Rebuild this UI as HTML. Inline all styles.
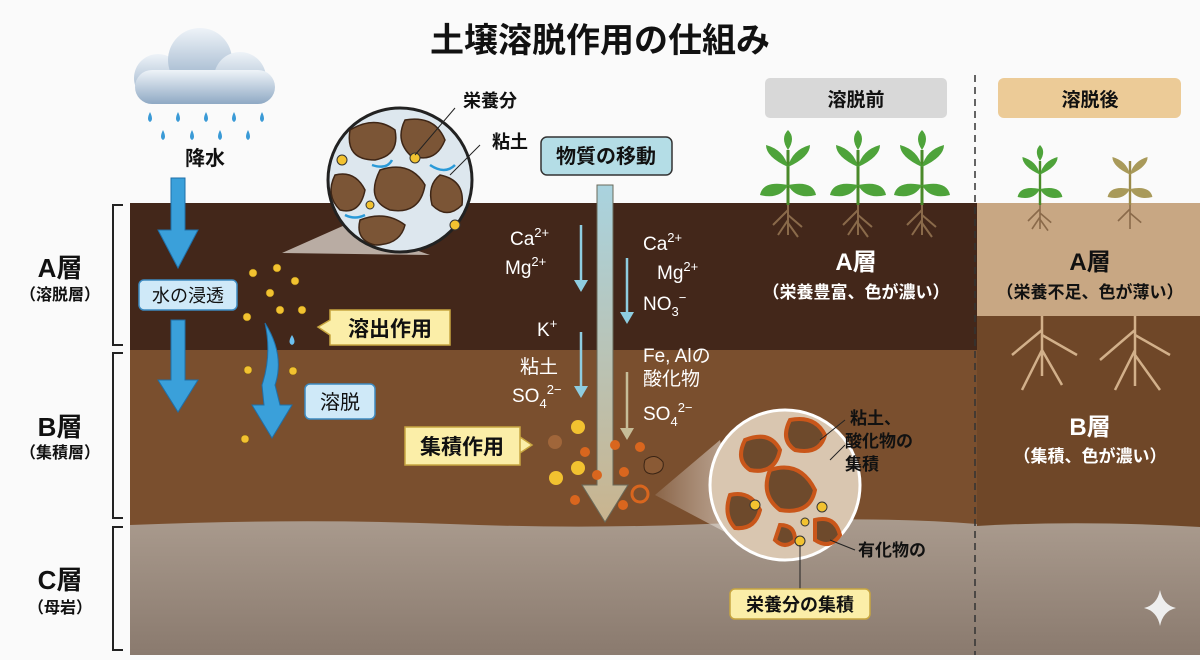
<!DOCTYPE html>
<html><head><meta charset="utf-8"><style>
body{margin:0;width:1200px;height:655px;overflow:hidden;background:#fafafa}
text{font-family:"Liberation Sans","Noto Sans CJK JP",sans-serif}
</style></head><body>
<svg width="1200" height="655" viewBox="0 0 1200 655" xmlns="http://www.w3.org/2000/svg">
<defs>
<linearGradient id="cg" x1="0" y1="0" x2="0" y2="1"><stop offset="0" stop-color="#a99a8d"/><stop offset="1" stop-color="#8a7a6e"/></linearGradient>
<linearGradient id="mv" x1="0" y1="0" x2="0" y2="1"><stop offset="0" stop-color="#a9d3df"/><stop offset="1" stop-color="#c9b48e"/></linearGradient>
<linearGradient id="cl" x1="0" y1="0" x2="0" y2="1"><stop offset="0" stop-color="#eef3f8"/><stop offset="1" stop-color="#8fa9c4"/></linearGradient>
<linearGradient id="beam" x1="0" y1="0" x2="1" y2="0"><stop offset="0" stop-color="#fff" stop-opacity="0.15"/><stop offset="1" stop-color="#e6ddd3" stop-opacity="0.8"/></linearGradient>
<g id="pl">
<path d="M0 0 V-55" stroke="#4a8a2a" stroke-width="3"/>
<path d="M0 -20 q-25 -5 -28 10 q20 5 28 -10z M0 -20 q25 -5 28 10 q-20 5 -28 -10z M0 -38 q-22 -10 -22 -22 q18 5 22 22z M0 -38 q22 -10 22 -22 q-18 5 -22 22z M0 -55 q-8 -12 0 -20 q8 8 0 20z" fill="#4ea33a"/>
<path d="M0 0 v30 M0 5 l-15 15 M0 10 l14 12 M0 15 l-10 15 M0 18 l10 14" stroke="#8a6a4a" stroke-width="2" fill="none"/></g>
</defs>
<rect width="1200" height="655" fill="#fafafa"/>
<text x="600" y="52" text-anchor="middle" font-size="34" font-weight="bold" fill="#111">土壌溶脱作用の仕組み</text>
<!-- soil left -->
<rect x="130" y="203" width="847" height="147" fill="#43271a"/>
<rect x="130" y="350" width="847" height="185" fill="#7a4f2e"/>
<path d="M130 525 Q300 518 450 524 Q600 530 750 522 Q880 516 977 524 L977 655 L130 655Z" fill="url(#cg)"/>
<!-- soil right -->
<rect x="977" y="203" width="223" height="113" fill="#c8a783"/>
<rect x="977" y="316" width="223" height="219" fill="#6f4728"/>
<path d="M977 526 Q1080 520 1200 527 L1200 655 L977 655Z" fill="url(#cg)"/>
<line x1="975" y1="75" x2="975" y2="655" stroke="#333" stroke-width="1.5" stroke-dasharray="7,5"/>
<!-- brackets -->
<g stroke="#222" stroke-width="2" fill="none">
<path d="M123 205 H113 V345 H123"/><path d="M123 353 H113 V518 H123"/><path d="M123 527 H113 V650 H123"/></g>
<g text-anchor="middle" fill="#111" font-weight="bold">
<text x="60" y="277" font-size="26">A層</text><text x="60" y="300" font-size="16">（溶脱層）</text>
<text x="60" y="436" font-size="26">B層</text><text x="60" y="458" font-size="16">（集積層）</text>
<text x="60" y="589" font-size="26">C層</text><text x="60" y="613" font-size="16">（母岩）</text></g>
<!-- cloud -->
<g><circle cx="158" cy="78" r="24" fill="url(#cl)"/><circle cx="200" cy="60" r="32" fill="url(#cl)"/><circle cx="240" cy="78" r="26" fill="url(#cl)"/><rect x="135" y="70" width="140" height="34" rx="17" fill="url(#cl)"/></g>
<g fill="#3a9ad6"><path d="M150 112 q-4 8 0 10 q4 -2 0 -10z"/><path d="M178 112 q-4 8 0 10 q4 -2 0 -10z"/><path d="M206 112 q-4 8 0 10 q4 -2 0 -10z"/><path d="M234 112 q-4 8 0 10 q4 -2 0 -10z"/><path d="M262 112 q-4 8 0 10 q4 -2 0 -10z"/>
<path d="M163 130 q-4 8 0 10 q4 -2 0 -10z"/><path d="M192 130 q-4 8 0 10 q4 -2 0 -10z"/><path d="M220 130 q-4 8 0 10 q4 -2 0 -10z"/><path d="M248 130 q-4 8 0 10 q4 -2 0 -10z"/></g>
<text x="205" y="165" text-anchor="middle" font-size="20" font-weight="bold" fill="#111">降水</text>
<!-- blue arrows -->
<g fill="#3aa0da" stroke="#1f6fa8" stroke-width="1">
<path d="M171 178 H185 V230 H198 L178 268 L158 230 H171Z"/>
<path d="M171 320 H185 V380 H198 L178 412 L158 380 H171Z"/>
<path d="M265 323 Q285 355 275 385 L280 405 H292 L272 438 L252 405 H264 L262 385 Q272 355 265 323Z"/></g>
<path d="M292 335 q-5 8 0 10 q5 -2 0 -10z" fill="#6cc0ef"/>
<rect x="139" y="280" width="98" height="30" rx="5" fill="#cfe9f8" stroke="#3d8ac0" stroke-width="1.5"/>
<text x="188" y="302" text-anchor="middle" font-size="18" fill="#111">水の浸透</text>
<rect x="305" y="384" width="70" height="35" rx="5" fill="#cfe9f8" stroke="#3d8ac0" stroke-width="1.5"/>
<text x="340" y="409" text-anchor="middle" font-size="20" fill="#111">溶脱</text>
<g fill="#f2c230" stroke="#7a5a10" stroke-width="0.5"><circle cx="253" cy="273" r="4"/><circle cx="277" cy="268" r="4"/><circle cx="295" cy="281" r="4"/><circle cx="270" cy="293" r="4"/><circle cx="280" cy="310" r="4"/><circle cx="302" cy="310" r="4"/><circle cx="247" cy="317" r="4"/><circle cx="248" cy="370" r="4"/><circle cx="293" cy="371" r="4"/><circle cx="245" cy="439" r="4"/></g>
<!-- 溶出作用 -->
<path d="M330 310 h120 v35 h-120 v-10 l-12 -8 l12 -7z" fill="#fbeea8" stroke="#c8a640" stroke-width="1.5"/>
<text x="390" y="336" text-anchor="middle" font-size="21" font-weight="bold" fill="#111">溶出作用</text>
<!-- top magnifier -->
<path d="M282 253 L345 225 L430 255 Z" fill="#e0d9d2" opacity="0.75"/>
<circle cx="400" cy="180" r="72" fill="#dde7ee" stroke="#222" stroke-width="3"/>
<g fill="#7b5536" stroke="#3e2616" stroke-width="1.5">
<path d="M350 130 q25 -15 45 0 q5 25 -20 30 q-30 0 -25 -30z"/><path d="M405 120 q30 -5 40 20 q-10 25 -35 15 q-15 -15 -5 -35z"/>
<path d="M380 170 q30 -10 45 15 q-5 30 -35 25 q-25 -10 -10 -40z"/><path d="M335 175 q20 -5 30 15 q-5 25 -25 20 q-15 -15 -5 -35z"/>
<path d="M440 175 q25 5 22 30 q-15 15 -30 0 q-5 -20 8 -30z"/><path d="M360 220 q25 -10 45 5 q-5 20 -30 20 q-20 -5 -15 -25z"/></g>
<g fill="none" stroke="#2a9ad8" stroke-width="2.5"><path d="M372 165 q15 5 20 -5"/><path d="M430 165 q15 10 25 0"/><path d="M345 215 q10 5 20 0"/></g>
<g fill="#f2c230" stroke="#333"><circle cx="342" cy="160" r="5"/><circle cx="415" cy="158" r="5"/><circle cx="455" cy="225" r="5"/><circle cx="370" cy="205" r="4"/></g>
<line x1="415" y1="155" x2="455" y2="108" stroke="#222"/><line x1="450" y1="175" x2="480" y2="145" stroke="#222"/>
<text x="490" y="107" text-anchor="middle" font-size="18" font-weight="bold" fill="#111">栄養分</text>
<text x="510" y="148" text-anchor="middle" font-size="18" font-weight="bold" fill="#111">粘土</text>
<!-- 物質の移動 -->
<rect x="541" y="137" width="131" height="38" rx="6" fill="#b4dde6" stroke="#333" stroke-width="1.5"/>
<text x="606" y="163" text-anchor="middle" font-size="20" font-weight="bold" fill="#111">物質の移動</text>
<path d="M597 185 H613 V485 H628 L605 522 L582 485 H597Z" fill="url(#mv)" stroke="#6a6a5a" stroke-width="1"/>
<g stroke-width="2.5" fill="none"><path d="M581 225 V282" stroke="#8ecde0"/><path d="M627 258 V315" stroke="#8ecde0"/><path d="M581 332 V390" stroke="#8ecde0"/><path d="M627 372 V432" stroke="#c6bd98"/></g>
<g fill="#8ecde0"><path d="M574 280 h14 l-7 12z"/><path d="M620 312 h14 l-7 12z"/><path d="M574 386 h14 l-7 12z"/></g><path d="M620 428 h14 l-7 12z" fill="#c6bd98"/>
<g fill="#fff" font-size="19">
<text x="510" y="245">Ca<tspan font-size="13" dy="-8">2+</tspan></text>
<text x="505" y="274">Mg<tspan font-size="13" dy="-8">2+</tspan></text>
<text x="643" y="250">Ca<tspan font-size="13" dy="-8">2+</tspan></text>
<text x="657" y="279">Mg<tspan font-size="13" dy="-8">2+</tspan></text>
<text x="643" y="310">NO<tspan font-size="13" dy="6">3</tspan><tspan font-size="13" dy="-14">−</tspan></text>
<text x="537" y="336">K<tspan font-size="13" dy="-8">+</tspan></text>
<text x="520" y="373">粘土</text>
<text x="512" y="402">SO<tspan font-size="13" dy="6">4</tspan><tspan font-size="13" dy="-14">2−</tspan></text>
<text x="643" y="362">Fe, Alの</text>
<text x="643" y="385">酸化物</text>
<text x="643" y="420">SO<tspan font-size="13" dy="6">4</tspan><tspan font-size="13" dy="-14">2−</tspan></text></g>
<!-- 集積作用 -->
<path d="M405 427 h115 v38 h-115z M520 437 l12 8 l-12 8z" fill="#fbeea8" stroke="#c8a640" stroke-width="1.5"/>
<text x="462" y="454" text-anchor="middle" font-size="21" font-weight="bold" fill="#111">集積作用</text>
<g><circle cx="555" cy="442" r="7" fill="#a0663a"/><circle cx="578" cy="427" r="7" fill="#f2c230"/><circle cx="578" cy="468" r="7" fill="#f2c230"/><circle cx="556" cy="478" r="7" fill="#f2c230"/><circle cx="585" cy="452" r="5" fill="#d9661e"/><circle cx="597" cy="475" r="5" fill="#d9661e"/><circle cx="615" cy="445" r="5" fill="#d9661e"/><circle cx="640" cy="447" r="5" fill="#d9661e"/><circle cx="624" cy="472" r="5" fill="#d9661e"/><circle cx="575" cy="500" r="5" fill="#d9661e"/><circle cx="623" cy="505" r="5" fill="#d9661e"/><circle cx="640" cy="494" r="8" fill="none" stroke="#d9661e" stroke-width="3"/><path d="M645 460 q10 -8 18 2 q2 10 -10 12 q-12 0 -8 -14z" fill="#8a5a35" stroke="#3a2414"/></g>
<!-- bottom magnifier -->
<path d="M655 495 L720 440 L740 540 Z" fill="url(#beam)" opacity="0.8"/>
<circle cx="785" cy="485" r="75" fill="#d9c6b0" stroke="#fff" stroke-width="3"/>
<g fill="#6e4a2c" stroke="#c9561a" stroke-width="4">
<path d="M745 440 q25 -10 35 10 q-5 25 -30 20 q-15 -10 -5 -30z"/><path d="M790 420 q25 -5 35 15 q-5 20 -30 15 q-15 -10 -5 -30z"/>
<path d="M770 470 q30 -10 45 20 q-5 25 -35 20 q-20 -15 -10 -40z"/><path d="M730 495 q20 -5 30 15 q-5 20 -25 18 q-12 -13 -5 -33z"/>
<path d="M815 520 q20 -5 25 15 q-10 15 -25 5z"/><path d="M780 525 q15 0 15 15 q-10 10 -20 0z"/></g>
<g fill="#f2c230" stroke="#333"><circle cx="755" cy="505" r="5"/><circle cx="800" cy="541" r="5"/><circle cx="822" cy="507" r="5"/><circle cx="805" cy="522" r="4"/></g>
<g stroke="#222"><line x1="820" y1="440" x2="845" y2="420"/><line x1="830" y1="460" x2="845" y2="445"/><line x1="830" y1="540" x2="855" y2="550"/><line x1="800" y1="545" x2="800" y2="590"/></g>
<g font-size="17" font-weight="bold" fill="#111">
<text x="850" y="424">粘土、</text><text x="845" y="447">酸化物の</text><text x="845" y="470">集積</text><text x="858" y="556">有化物の</text></g>
<rect x="730" y="589" width="140" height="30" rx="5" fill="#fbeea8" stroke="#c8a640" stroke-width="1.5"/>
<text x="800" y="611" text-anchor="middle" font-size="18" font-weight="bold" fill="#111">栄養分の集積</text>
<!-- top labels right -->
<rect x="765" y="78" width="182" height="40" rx="5" fill="#d8d8d8"/>
<text x="856" y="106" text-anchor="middle" font-size="19" font-weight="bold" fill="#111">溶脱前</text>
<rect x="998" y="78" width="183" height="40" rx="6" fill="#eccb97"/>
<text x="1090" y="106" text-anchor="middle" font-size="19" font-weight="bold" fill="#111">溶脱後</text>
<!-- plants -->
<use href="#pl" x="788" y="205"/><use href="#pl" x="858" y="205"/><use href="#pl" x="922" y="205"/>
<g transform="translate(1040 205) scale(.8)"><use href="#pl"/></g>
<g transform="translate(1130 205) scale(.8)"><path d="M0 0 V-55" stroke="#9a8a4a" stroke-width="3"/>
<path d="M0 -20 q-25 -5 -28 10 q20 5 28 -10z M0 -20 q25 -5 28 10 q-20 5 -28 -10z M0 -38 q-22 -10 -22 -22 q18 5 22 22z M0 -38 q22 -10 22 -22 q-18 5 -22 22z" fill="#a99a5a"/>
<path d="M0 0 v30 M0 5 l-15 15 M0 10 l14 12" stroke="#8a6a4a" stroke-width="2" fill="none"/></g>
<g stroke="#d2b08a" stroke-width="2.5" fill="none"><path d="M1042 316 v60 M1042 330 l-30 25 M1042 335 l35 20 M1042 350 l-20 40 M1042 350 l20 35"/><path d="M1135 316 v70 M1135 330 l-35 30 M1135 335 l35 20 M1135 350 l-20 40 M1135 355 l25 35"/></g>
<g text-anchor="middle" fill="#fff" font-weight="bold">
<text x="856" y="270" font-size="24">A層</text><text x="856" y="298" font-size="17">（栄養豊富、色が濃い）</text>
<text x="1090" y="435" font-size="24">B層</text><text x="1090" y="462" font-size="17">（集積、色が濃い）</text></g>
<text x="1090" y="270" text-anchor="middle" font-size="24" font-weight="bold" fill="#111">A層</text>
<text x="1090" y="298" text-anchor="middle" font-size="17" font-weight="bold" fill="#111">（栄養不足、色が薄い）</text>
<path d="M1160 590 q3 15 16 18 q-13 3 -16 18 q-3 -15 -16 -18 q13 -3 16 -18z" fill="#eee"/>
</svg>
</body></html>
